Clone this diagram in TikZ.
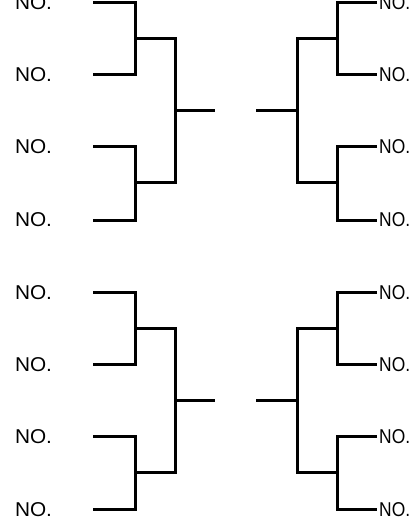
\documentclass[tikz,border=0pt]{standalone}
\usepackage{fontspec}
\setmainfont{Liberation Sans}
\begin{document}
\begin{tikzpicture}[x=1pt,y=-1pt,
  wire/.style={line width=3pt, line join=miter},
  lbl/.style={font=\fontsize{20}{20}\selectfont, inner sep=0pt, text=black}]
\useasboundingbox (0,0) rectangle (418,521);
\clip (0,0) rectangle (418,521);
\foreach \h/\o in {1/0, 2/289.5} {
  % left labels
  \node[lbl] (LT\h a) at (33.5,\o+3)   {\scalebox{1.04}[1]{NO.}};
  \node[lbl] (LT\h b) at (33.5,\o+75)  {\scalebox{1.04}[1]{NO.}};
  \node[lbl] (LT\h c) at (33.5,\o+147) {\scalebox{1.04}[1]{NO.}};
  \node[lbl] (LT\h d) at (33.5,\o+220) {\scalebox{1.04}[1]{NO.}};
  % right labels
  \node[lbl, anchor=west] (RT\h a) at (379,\o+3)   {\scalebox{0.87}[1]{NO.}};
  \node[lbl, anchor=west] (RT\h b) at (379,\o+75)  {\scalebox{0.87}[1]{NO.}};
  \node[lbl, anchor=west] (RT\h c) at (379,\o+147) {\scalebox{0.87}[1]{NO.}};
  \node[lbl, anchor=west] (RT\h d) at (379,\o+220) {\scalebox{0.87}[1]{NO.}};
  % left bracket coordinates
  \coordinate (LS\h a) at (93,\o+3);   \coordinate (LC\h a) at (135,\o+3);
  \coordinate (LS\h b) at (93,\o+75);  \coordinate (LC\h b) at (135,\o+75);
  \coordinate (LS\h c) at (93,\o+147); \coordinate (LC\h c) at (135,\o+147);
  \coordinate (LS\h d) at (93,\o+220); \coordinate (LC\h d) at (135,\o+220);
  \coordinate (LJ\h a) at (135,\o+39);  \coordinate (LK\h a) at (175,\o+39);
  \coordinate (LJ\h b) at (135,\o+183); \coordinate (LK\h b) at (175,\o+183);
  \coordinate (LM\h) at (175,\o+111);   \coordinate (LE\h) at (215,\o+111);
  % right bracket coordinates
  \coordinate (RS\h a) at (377,\o+3);   \coordinate (RC\h a) at (337,\o+3);
  \coordinate (RS\h b) at (377,\o+75);  \coordinate (RC\h b) at (337,\o+75);
  \coordinate (RS\h c) at (377,\o+147); \coordinate (RC\h c) at (337,\o+147);
  \coordinate (RS\h d) at (377,\o+220); \coordinate (RC\h d) at (337,\o+220);
  \coordinate (RJ\h a) at (337,\o+39);  \coordinate (RK\h a) at (297,\o+39);
  \coordinate (RJ\h b) at (337,\o+183); \coordinate (RK\h b) at (297,\o+183);
  \coordinate (RM\h) at (297,\o+111);   \coordinate (RE\h) at (256,\o+111);
  % left wires
  \draw[wire] (LS\h a) -- (LC\h a) -- (LC\h b) -- (LS\h b);
  \draw[wire] (LS\h c) -- (LC\h c) -- (LC\h d) -- (LS\h d);
  \draw[wire] (LJ\h a) -- (LK\h a) -- (LK\h b) -- (LJ\h b);
  \draw[wire] (LM\h) -- (LE\h);
  % right wires
  \draw[wire] (RS\h a) -- (RC\h a) -- (RC\h b) -- (RS\h b);
  \draw[wire] (RS\h c) -- (RC\h c) -- (RC\h d) -- (RS\h d);
  \draw[wire] (RJ\h a) -- (RK\h a) -- (RK\h b) -- (RJ\h b);
  \draw[wire] (RM\h) -- (RE\h);
}
\end{tikzpicture}
\end{document}
